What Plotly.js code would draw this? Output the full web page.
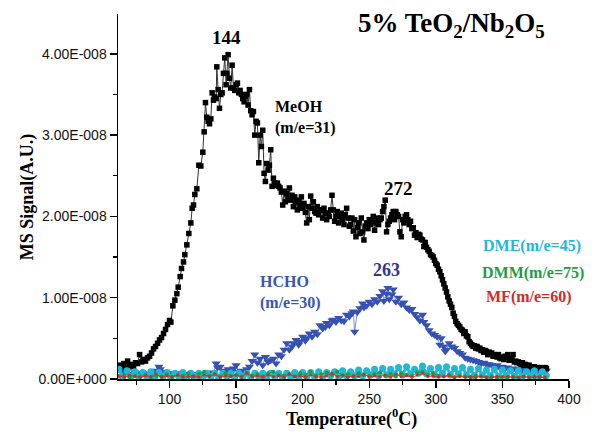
<!DOCTYPE html>
<html>
<head>
<meta charset="utf-8">
<script src="https://cdn.plot.ly/plotly-3.0.1.min.js"></script>
<style>html,body{margin:0;padding:0;background:#fff;}#chart{width:594px;height:432px;}</style>
</head>
<body>
<div id="chart"></div>
<script>
// Signals are in units of 1E-008 A.U.
const meohT = [62.5,64,65.5,67,68.5,70,71.5,73,74.5,76,77.5,79,80.5,82,83.5,85,86.5,88,89.5,91,92.5,94,95.5,97,98.5,100,101,102.5,104,105.5,106.5,108,109,110.5,111.5,113,114.5,116,117,118,119,120.5,122,123.5,125,126,127,128,129,130,131,132,133,134,135,135.5,136.5,137.5,138.5,139.5,140.5,141.5,142.5,143,144,145,146,147,148,149,150,151,152,153,154,155,156,157,158,159,160,161,162,163,164,165,166,167,168,169,170,171,172,173,174,175,176,177,178,179,180,181,182,183,184,185,186,187,188,189,190,191,192,193,194,195,196,197,198,199,200,201,202,203,204,205,206,207,208,209,210,211,212,213,214,215,216,217,218,219,220,221,222,223,224,225,226,227,228,229,230,231,232,233,234,235,236,237,238,239,240,241,242,243,244,245,246,247,248,249,250,251,252,253,254,255,256,257,258,259,260,261,262,263,264,265,266,267,268,269,270,271,272,273,274,275,276,277,278,279,280,281,282,283,284,285,286,287,288,289,290,291,292,293,294,295,296,297,298,299,300,301,302,303,304,305,306,307,308,309,310,311,312,313,314,315,316,317,318,319,320,321,322,323,324,325,326,327,328,329,330,331,332,333,334,335,336,337,338,339,340,341,342,343,344,345,346,347,348,349,350,351,352,353,354,355,356,357,358,359,360,361,362,363,364,365,366,367,368,369,370,372,374,376,378,380,382,383];
const meohSignal = [0.17,0.14,0.19,0.13,0.22,0.16,0.18,0.15,0.20,0.19,0.30,0.21,0.24,0.22,0.26,0.28,0.32,0.37,0.40,0.44,0.48,0.51,0.56,0.61,0.67,0.72,0.70,0.90,0.97,1.05,1.13,1.26,1.36,1.44,1.53,1.65,1.79,1.92,2.10,2.14,2.27,2.34,2.63,2.62,2.79,3.04,3.40,3.22,3.17,3.14,3.20,3.52,3.43,3.47,3.45,3.84,3.56,3.33,3.50,3.52,3.76,3.95,3.62,3.76,3.99,3.70,3.58,3.86,3.58,3.55,3.62,3.64,3.52,3.55,3.50,3.45,3.41,3.48,3.50,3.37,3.56,3.30,3.25,3.29,3.00,3.17,3.15,2.66,3.00,2.86,3.06,2.53,2.43,2.65,2.57,2.63,2.82,2.37,2.47,2.41,2.38,2.41,2.37,2.35,2.30,2.14,2.31,2.18,2.28,2.22,2.35,2.20,2.26,2.12,2.24,2.18,2.08,2.20,2.14,2.24,2.10,2.16,2.05,1.92,2.12,1.96,2.25,2.10,2.18,2.06,2.04,2.12,2.02,2.08,2.08,1.98,2.10,2.04,1.96,2.04,2.00,2.08,2.26,2.08,1.94,2.00,2.06,1.92,2.00,2.04,1.96,1.90,2.02,2.10,1.98,1.88,1.90,1.98,1.82,1.96,1.75,1.86,1.92,1.79,1.98,1.81,1.71,1.88,1.92,1.85,1.96,1.90,1.94,2.00,1.83,1.92,1.98,1.90,1.96,1.98,2.06,2.12,2.20,1.81,1.90,1.94,1.98,2.02,2.06,1.96,2.06,2.02,2.00,1.81,1.75,1.96,1.92,2.00,2.02,1.96,1.90,1.94,1.85,1.86,1.77,1.80,1.74,1.78,1.77,1.72,1.71,1.63,1.68,1.62,1.59,1.57,1.53,1.52,1.50,1.46,1.42,1.40,1.35,1.32,1.27,1.22,1.17,1.12,1.07,1.01,0.96,0.92,0.88,0.81,0.77,0.71,0.68,0.66,0.64,0.61,0.60,0.56,0.58,0.53,0.52,0.46,0.44,0.42,0.40,0.41,0.38,0.40,0.37,0.38,0.35,0.36,0.33,0.35,0.34,0.30,0.33,0.31,0.32,0.28,0.30,0.29,0.27,0.30,0.26,0.25,0.27,0.24,0.28,0.27,0.30,0.23,0.25,0.24,0.30,0.21,0.22,0.20,0.21,0.19,0.18,0.20,0.17,0.18,0.17,0.16,0.17,0.15,0.15,0.14,0.14,0.13,0.14,0.13];

const hchoT = [62,64,66,68,70,72,74,76,78,80,82,84,86,88,90,92,93,95,97,99,101,103,105,107,109,111,113,115,117,119,121,123,125,127,129,131,133,135,136,138,140,142,144,146,148,150,152,154,156,158,160,162,164,166,168,170,172,174,176,178,180,182,184,186,188,190,192,193,195,197,198,200,202,203,205,207,209,211,213,215,217,218,220,222,223,225,227,229,231,233,235,237,238,239,241,243,245,246,248,250,252,254,256,258,260,261,263,264,265,267,268,270,272,274,276,278,280,282,284,286,288,290,291,293,295,297,299,301,303,304,306,307,308,310,312,314,316,318,320,322,324,326,328,330,332,334,336,338,340,342,344,346,348,350,352,354,356,358,360,362,364,366,368,370,372,374,376,378,380,382,383];
const hchoSignal = [0.12,0.09,0.07,0.10,0.06,0.05,0.08,0.06,0.05,0.07,0.06,0.05,0.06,0.07,0.10,0.15,0.12,0.08,0.09,0.06,0.05,0.07,0.06,0.07,0.05,0.04,0.06,0.05,0.04,0.05,0.06,0.05,0.04,0.05,0.06,0.05,0.08,0.19,0.14,0.15,0.10,0.08,0.12,0.07,0.13,0.17,0.09,0.10,0.08,0.12,0.15,0.22,0.30,0.20,0.25,0.17,0.27,0.21,0.23,0.25,0.19,0.30,0.28,0.36,0.44,0.36,0.40,0.44,0.48,0.42,0.46,0.52,0.47,0.50,0.56,0.52,0.58,0.55,0.66,0.62,0.64,0.69,0.66,0.72,0.73,0.70,0.75,0.72,0.71,0.79,0.77,0.81,0.83,0.58,0.82,0.87,0.93,0.88,0.90,0.95,0.92,0.98,0.95,1.02,1.08,0.96,1.05,1.12,0.98,1.04,1.10,0.95,1.00,0.92,0.94,0.88,0.85,0.86,0.80,0.76,0.72,0.79,0.70,0.66,0.60,0.56,0.54,0.52,0.42,0.50,0.40,0.34,0.36,0.44,0.40,0.38,0.34,0.32,0.30,0.26,0.25,0.24,0.23,0.22,0.21,0.19,0.20,0.18,0.18,0.17,0.16,0.17,0.14,0.15,0.13,0.14,0.12,0.13,0.12,0.11,0.12,0.10,0.11,0.10,0.11,0.09,0.10,0.11,0.10,0.11,0.10];

const dmeT = [62,65,68,71,74,77,80,83,86,89,92,95,98,101,104,107,110,113,116,119,122,125,128,131,134,137,140,143,146,149,152,155,158,161,164,167,170,173,176,179,182,185,188,191,194,197,200,203,206,209,212,215,218,221,224,227,230,233,236,239,242,245,248,251,254,257,260,263,266,269,272,275,278,281,284,287,290,293,296,299,302,305,308,311,314,317,320,323,326,329,332,335,338,341,344,347,350,353,356,359,362,365,368,371,374,377,380,383];
const dmeSignal = [0.12,0.02,0.10,0.03,0.09,0.02,0.08,0.03,0.09,0.02,0.08,0.03,0.08,0.02,0.07,0.03,0.08,0.02,0.07,0.03,0.07,0.02,0.07,0.03,0.07,0.02,0.07,0.03,0.07,0.02,0.07,0.03,0.07,0.02,0.07,0.03,0.07,0.02,0.07,0.03,0.07,0.02,0.07,0.03,0.08,0.02,0.08,0.03,0.08,0.03,0.09,0.03,0.08,0.04,0.09,0.03,0.10,0.04,0.09,0.04,0.11,0.04,0.10,0.05,0.12,0.04,0.13,0.05,0.12,0.06,0.14,0.05,0.15,0.06,0.12,0.07,0.16,0.06,0.13,0.05,0.14,0.07,0.15,0.05,0.13,0.06,0.14,0.05,0.12,0.04,0.13,0.05,0.11,0.04,0.12,0.03,0.11,0.04,0.10,0.03,0.10,0.03,0.09,0.04,0.10,0.03,0.09,0.04];

const minorT = [62,66,70,74,78,82,86,90,94,98,102,106,110,114,118,122,126,130,134,138,142,146,150,154,158,162,166,170,174,178,182,186,190,194,198,202,206,210,214,218,222,226,230,234,238,242,246,250,254,258,262,266,270,274,278,282,286,290,294,298,302,306,310,314,318,322,326,330,334,338,342,346,350,354,358,362,366,370,374,378,382];
const dmmSignal = [0.03,0.05,0.02,0.04,0.03,0.05,0.02,0.04,0.03,0.06,0.02,0.05,0.04,0.07,0.03,0.06,0.09,0.04,0.06,0.03,0.07,0.04,0.05,0.03,0.08,0.04,0.06,0.03,0.07,0.09,0.05,0.04,0.06,0.03,0.07,0.05,0.09,0.04,0.06,0.08,0.05,0.09,0.04,0.06,0.03,0.07,0.05,0.04,0.06,0.08,0.04,0.06,0.03,0.07,0.05,0.04,0.08,0.09,0.05,0.07,0.04,0.03,0.05,0.02,0.04,0.03,0.02,0.04,0.03,0.02,0.03,0.02,0.03,0.02,0.03,0.02,0.03,0.02,0.02,0.03,0.02];
const mfSignal = [0.04,0.02,0.05,0.03,0.02,0.04,0.03,0.06,0.02,0.04,0.03,0.05,0.02,0.03,0.04,0.02,0.05,0.03,0.06,0.02,0.04,0.03,0.05,0.02,0.07,0.03,0.04,0.02,0.05,0.03,0.04,0.02,0.06,0.03,0.04,0.02,0.05,0.03,0.02,0.04,0.07,0.03,0.05,0.02,0.04,0.03,0.06,0.02,0.04,0.03,0.05,0.02,0.06,0.03,0.04,0.02,0.05,0.07,0.03,0.04,0.02,0.03,0.04,0.02,0.03,0.02,0.03,0.02,0.03,0.02,0.02,0.03,0.02,0.03,0.02,0.02,0.03,0.02,0.03,0.02,0.02];

const yTickVals = [0,1,2,3,4];
const yTickText = ["0.00E+000","1.00E-008","2.00E-008","3.00E-008","4.00E-008"];
const yMinorVals = [0.5,1.5,2.5,3.5,4.5];

const serif = "Liberation Serif, Times New Roman, serif";
const sans = "Liberation Sans, Arial, sans-serif";

const traces = [
  {x: hchoT, y: hchoSignal, type:'scatter', mode:'lines+markers', name:'HCHO',
   line:{color:'#7f90d0', width:1}, marker:{symbol:'triangle-down', size:8, color:'#3552b2'}},
  {x: meohT, y: meohSignal, type:'scatter', mode:'lines+markers', name:'MeOH',
   line:{color:'#333', width:1}, marker:{symbol:'square', size:5.5, color:'#000'}},
  {x: dmeT, y: dmeSignal, type:'scatter', mode:'lines+markers', name:'DME',
   line:{color:'#22bcd8', width:3}, marker:{symbol:'circle', size:7, color:'#1cbad6'}},
  {x: minorT, y: dmmSignal, type:'scatter', mode:'lines+markers', name:'DMM',
   line:{color:'#27a24a', width:1}, marker:{symbol:'circle', size:4, color:'#1f9c44'}},
  {x: minorT, y: mfSignal, type:'scatter', mode:'lines+markers', name:'MF',
   line:{color:'#d83030', width:1}, marker:{symbol:'circle', size:3, color:'#d42a2a'}}
];

function ann(text, x, y, size, color, xanchor, extra) {
  return Object.assign({text:text, x:x, y:y, xref:'x', yref:'y', showarrow:false,
    xanchor:xanchor||'center', yanchor:'middle',
    font:{family:serif, size:size, color:color, weight:'bold'}}, extra||{});
}

const layout = {
  width:594, height:432,
  margin:{l:118, r:25, t:14, b:53},
  paper_bgcolor:'#fff', plot_bgcolor:'#fff',
  showlegend:false,
  xaxis:{range:[61.3,400], tickmode:'linear', tick0:0, dtick:50,
    showline:true, linecolor:'#000', linewidth:1.5, ticks:'outside', ticklen:7, tickwidth:1.5, tickcolor:'#000',
    minor:{dtick:25, tick0:0, ticks:'outside', ticklen:4, tickwidth:1.2, tickcolor:'#000'},
    showgrid:false, zeroline:false, tickfont:{family:sans, size:14, color:'#111'}},
  yaxis:{range:[0,4.49], tickmode:'array', tickvals:yTickVals, ticktext:yTickText,
    showline:true, linecolor:'#000', linewidth:1.5, ticks:'outside', ticklen:7, tickwidth:1.5, tickcolor:'#000',
    minor:{tickmode:'array', tickvals:yMinorVals, ticks:'outside', ticklen:4, tickwidth:1.2, tickcolor:'#000'},
    showgrid:false, zeroline:false, tickfont:{family:sans, size:14, color:'#111'}},
  annotations:[
    ann('5% TeO<sub>2</sub>/Nb<sub>2</sub>O<sub>5</sub>', 312, 4.36, 27, '#000'),
    ann('144', 142.5, 4.20, 19, '#000'),
    ann('MeOH<br>(m/e=31)', 177.7, 3.22, 16, '#000', 'left', {align:'left'}),
    ann('272', 272.3, 2.34, 19, '#000'),
    ann('263', 263.3, 1.34, 18, '#34348c'),
    ann('HCHO<br>(m/e=30)', 166.4, 1.06, 16, '#3a55b4', 'left', {align:'left'}),
    ann('DME(m/e=45)', 334, 1.63, 16, '#22b8dc', 'left'),
    ann('DMM(m/e=75)', 333.5, 1.30, 16, '#1f9c44', 'left'),
    ann('MF(m/e=60)', 336, 1.01, 16, '#d42a2a', 'left'),
    {text:'Temperature(<sup>0</sup>C)', xref:'paper', yref:'paper', x:0.517, y:-0.107, xanchor:'center', yanchor:'middle',
     showarrow:false, font:{family:serif, size:18, color:'#000', weight:'bold'}},
    {text:'MS Signal(A.U.)', xref:'paper', yref:'paper', x:-0.2, y:0.5, xanchor:'center', yanchor:'middle',
     textangle:-90, showarrow:false, font:{family:serif, size:18, color:'#000', weight:'bold'}}
  ]
};

Plotly.newPlot('chart', traces, layout, {displayModeBar:false, staticPlot:true});
</script>
</body>
</html>
